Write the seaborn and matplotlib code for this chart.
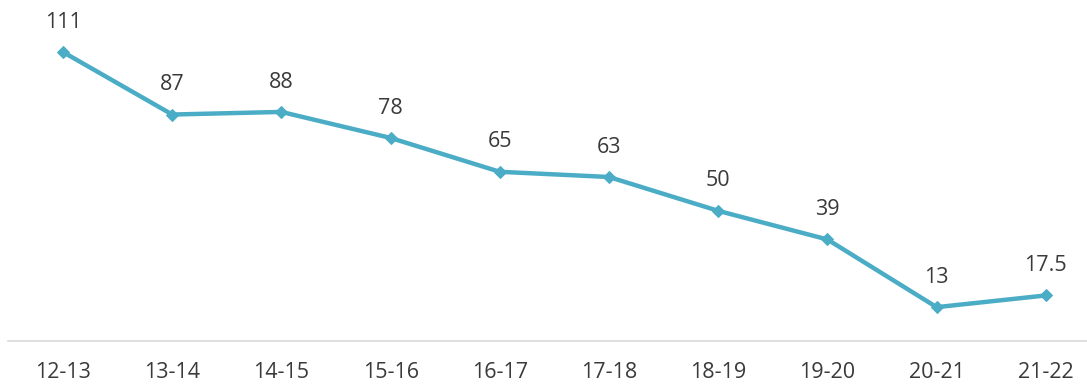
import matplotlib
matplotlib.use("Agg")
import matplotlib.pyplot as plt
import pandas as pd
import seaborn as sns

seasons = ["12-13", "13-14", "14-15", "15-16", "16-17", "17-18", "18-19", "19-20", "20-21", "21-22"]
values = [111, 87, 88, 78, 65, 63, 50, 39, 13, 17.5]
value_labels = ["111", "87", "88", "78", "65", "63", "50", "39", "13", "17.5"]

df = pd.DataFrame({"season": seasons, "value": values})
df["pos"] = range(len(df))

sns.set_style("white")
plt.rcParams["font.family"] = ["Open Sans", "DejaVu Sans"]

fig = plt.figure(figsize=(10.87, 3.84), dpi=100)
ax = fig.add_axes([8 / 1087, 1 - 341 / 384, 1079 / 1087, 341 / 384])

sns.lineplot(data=df, x="pos", y="value", ax=ax, color="#4BACC6", linewidth=3.2,
             marker="D", markersize=6.5, markeredgecolor="#4BACC6")

# value labels above each point
for x, y, lab in zip(df["pos"], df["value"], value_labels):
    ax.annotate(lab, (x, y), xytext=(0, 21.5), textcoords="offset points",
                ha="center", va="center", fontsize=15.5, color="#3A3A3A")

ax.set_xlim(-0.504, 9.377)
ax.set_ylim(0, 131)
ax.set_xticks(df["pos"])
ax.set_xticklabels(seasons, fontsize=15.5, color="#3A3A3A")
ax.set_yticks([])
ax.set_xlabel("")
ax.set_ylabel("")
ax.tick_params(axis="x", length=0, pad=15)
for side in ["top", "left", "right"]:
    ax.spines[side].set_visible(False)
ax.spines["bottom"].set_color("#D9D9D9")
ax.spines["bottom"].set_linewidth(1.2)

fig.savefig("out.png", dpi=100)
